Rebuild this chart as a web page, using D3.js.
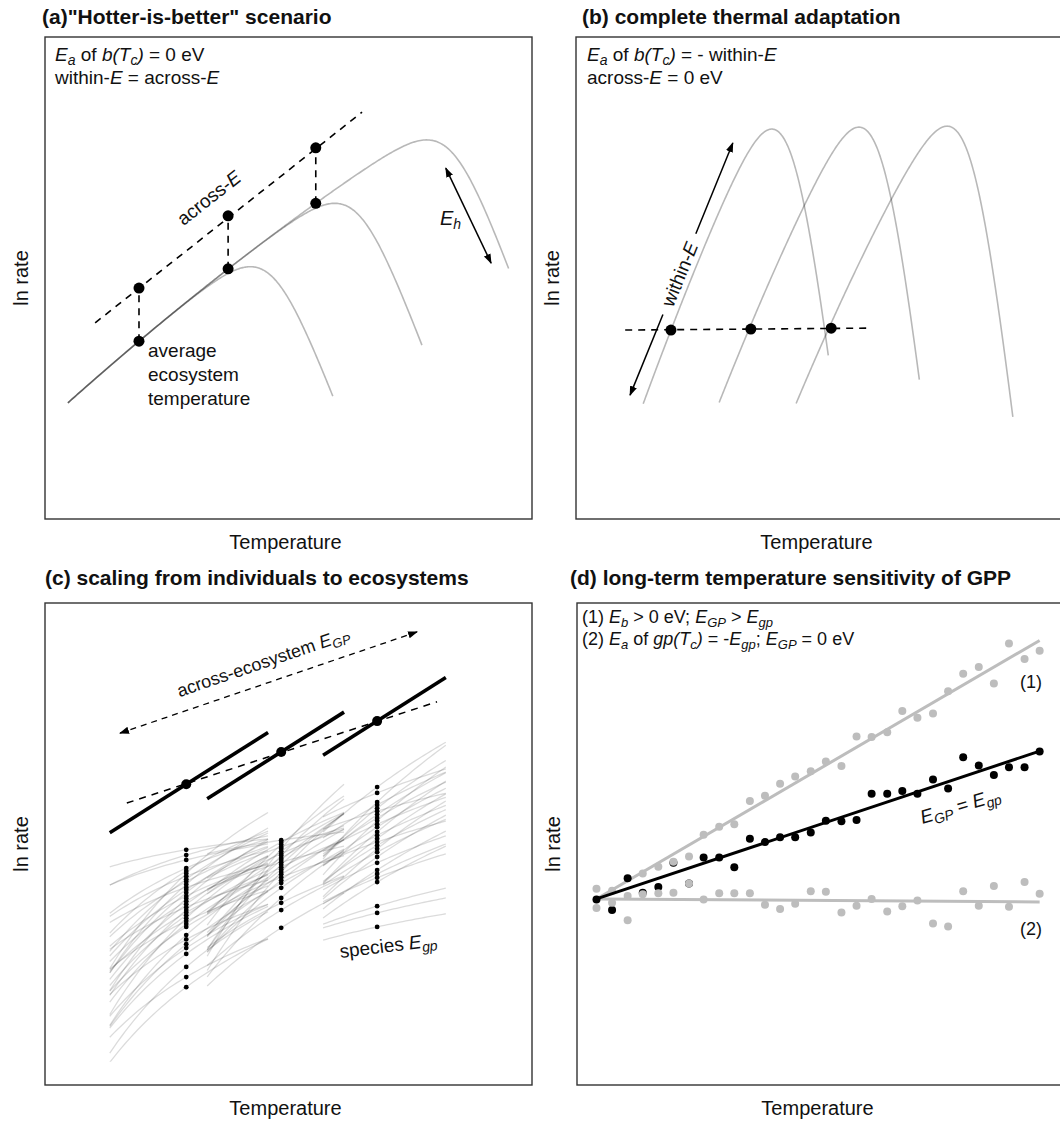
<!DOCTYPE html>
<html lang="en">
<head>
<meta charset="utf-8">
<title>Temperature sensitivity scenarios</title>
<style>
body { margin: 0; background: #fff; }
svg text { font-family: "Liberation Sans", Arial, Helvetica, sans-serif; fill: #111; }
</style>
</head>
<body>
<script src="https://d3js.org/d3.v7.min.js"></script>
<script>

// ---------- data (arbitrary temperature / ln rate units, 0-10 on each axis) ----------

// (a) hotter-is-better
var aStartTemp = 0.47, aStartRate = 2.41;
var aCurveTh = [4.63, 6.40, 8.33];        // where each curve starts to fall
var aCurveEnd = [5.91, 7.74, 9.52];
var aDotTemp = [1.93, 3.76, 5.56];
var aDotRate = [3.69, 5.19, 6.55];
var aDotUpper = [4.79, 6.29, 7.70];
var aAcrossTemp = [1.03, 6.51], aAcrossRate = [4.07, 8.44];
var aEhTemp = [8.23, 9.16], aEhRate = [7.28, 5.31];

// (b) complete thermal adaptation
var bPeakTemp = [4.02, 5.81, 7.62];
var bPeakRate = [8.09, 8.13, 8.15];
var bStartTemp = [1.38, 2.94, 4.52];
var bEndTemp = [5.18, 7.05, 8.97];
var bRise = [2.75, 2.55, 2.40];
var bDotTemp = [1.95, 3.59, 5.24];
var bDotRate = [3.92, 3.94, 3.96];
var bLineTemp = [1.01, 6.04], bLineRate = [3.92, 3.96];
var bArrowTemp = [1.11, 3.22], bArrowRate = [2.57, 7.80];

// (c) scaling from individuals to ecosystems
var cEcoTemp = [2.90, 4.85, 6.82];
var cEcoRate = [6.24, 6.91, 7.55];
var cEcoE = 0.64;
var cLo = [1.33, 3.33, 5.71], cHi = [4.58, 6.14, 8.23];
var cAcrossTemp = [1.68, 8.05], cAcrossRate = [5.85, 7.95];
var cArrowTemp = [1.54, 7.64], cArrowRate = [7.30, 9.40];
var c1Rate = [4.88, 4.77, 4.67, 4.50, 4.44, 4.39, 4.33, 4.27, 4.22, 4.16, 4.10, 4.05, 3.99, 3.92, 3.87, 3.81, 3.75,
              3.69, 3.63, 3.58, 3.52, 3.46, 3.40, 3.34, 3.28, 3.11, 3.02, 2.92, 2.84, 2.72, 2.45, 2.24, 2.03];
var c1E = [0.17, 0.30, 0.25, 0.45, 0.62, 0.95, 0.40, 0.72, 0.55, 0.88, 0.35, 0.66, 0.80, 0.50, 0.92, 0.60, 0.75,
           0.42, 0.85, 0.58, 0.70, 0.96, 0.48, 0.78, 0.64, 0.90, 0.55, 0.82, 0.68, 0.74, 0.86, 0.60, 0.75];
var c2Rate = [5.08, 5.04, 4.99, 4.94, 4.90, 4.85, 4.80, 4.76, 4.71, 4.67, 4.62, 4.57, 4.52, 4.47, 4.42, 4.37, 4.31,
              4.25, 4.19, 4.09, 3.88, 3.78, 3.63, 3.26];
var c2E = [0.15, 0.55, 0.90, 0.35, 1.20, 0.70, 0.45, 1.05, 0.60, 0.85, 0.30, 0.95, 0.50, 0.75, 1.10, 0.65, 0.40,
           0.80, 0.58, 0.72, 0.88, 0.50, 0.62, 0.65];
var c3Rate = [6.18, 6.06, 5.87, 5.81, 5.74, 5.68, 5.61, 5.54, 5.48, 5.41, 5.35, 5.25, 5.18, 5.11, 5.04, 4.97, 4.90,
              4.83, 4.73, 4.61, 4.46, 4.38, 4.30, 4.21, 3.71, 3.57, 3.28];
var c3E = [0.75, 0.40, 0.95, 0.55, 0.80, 0.30, 0.70, 0.60, 0.90, 0.45, 0.65, 0.85, 0.50, 0.75, 0.35, 0.60, 0.80,
           0.55, 0.70, 0.45, 0.65, 0.50, 0.40, 0.60, 0.30, 0.25, 0.22];
var cFloor = 0.48;

// (d) long-term temperature sensitivity of GPP
var dTemp = [0.40, 0.72, 1.04, 1.35, 1.67, 1.98, 2.30, 2.60, 2.92, 3.23, 3.55, 3.86, 4.17, 4.48, 4.80,
             5.11, 5.43, 5.74, 6.05, 6.37, 6.68, 6.99, 7.31, 7.62, 7.93, 8.25, 8.56, 8.87, 9.19, 9.50];
var dBlack = [3.85, 3.63, 4.29, 3.99, 4.11, 4.61, 4.18, 4.72, 4.72, 4.52, 5.11, 5.04, 5.14, 5.14, 5.24,
              5.48, 5.47, 5.50, 6.04, 6.04, 6.10, 6.04, 6.34, 6.15, 6.80, 6.63, 6.43, 6.59, 6.59, 6.92];
var dGray1 = [4.07, 4.03, 3.92, 4.39, 4.53, 4.63, 4.74, 5.19, 5.36, 5.41, 5.89, 6.00, 6.25, 6.40, 6.51,
              6.71, 6.62, 7.23, 7.22, 7.32, 7.76, 7.62, 7.71, 8.17, 8.53, 8.67, 8.33, 9.16, 8.84, 9.01];
var dGray2 = [3.67, 3.78, 3.42, 3.96, 3.98, 3.99, 4.18, 3.85, 3.98, 3.98, 3.98, 3.74, 3.65, 3.76, 4.02,
              4.01, 3.58, 3.72, 3.86, 3.60, 3.71, 3.83, 3.35, 3.29, 4.02, 3.72, 4.13, 3.70, 4.21, 3.97];
var dAnchorRate = 3.86;

// ---------- layout ----------
var W = 1060, H = 1124;
var boxW = 487, boxH = 482;
var panelLeft = [45, 576, 45, 577], panelTop = [37, 37, 603, 603];

var svg = d3.select("body").append("svg").attr("width", W).attr("height", H);
var defs = svg.append("defs");
defs.append("marker").attr("id", "arrowHead")
    .attr("viewBox", "0 -5 10 10").attr("refX", 9).attr("refY", 0)
    .attr("markerUnits", "userSpaceOnUse").attr("markerWidth", 10).attr("markerHeight", 10)
    .attr("orient", "auto-start-reverse")
  .append("path").attr("d", "M0,-3.6L10,0L0,3.6Z").attr("fill", "#000");

function softplus(u) { return u > 30 ? u : Math.log1p(Math.exp(u)); }
function tpc(c, t) {
    var dt = t - c.t0;
    return c.r0 + c.s * dt - c.q * dt * dt - c.K * c.w * softplus((t - c.th) / c.w);
}
function span(a, b, n) { return d3.range(n + 1).map(function(k) { return a + (b - a) * k / n; }); }

// text with italic / subscript pieces: flags "i" italic, "s" subscript
function rich(g, x, y, parts, size) {
    var t = g.append("text").attr("x", x).attr("y", y).style("font-size", size + "px");
    var shift = 0;
    parts.forEach(function(p) {
        var f = p[1] || "";
        var s = t.append("tspan").text(p[0]);
        var want = f.indexOf("s") >= 0 ? Math.round(size * 0.2) : 0;
        if (want !== shift) { s.attr("dy", want - shift); shift = want; }
        if (f.indexOf("i") >= 0) s.style("font-style", "italic");
        if (f.indexOf("s") >= 0) s.style("font-size", Math.round(size * 0.72) + "px");
    });
    return t;
}

function makePanel(i, title, tx, ty) {
    var left = panelLeft[i], top = panelTop[i];
    var x = d3.scaleLinear().domain([0, 10]).range([left, left + boxW]);
    var y = d3.scaleLinear().domain([0, 10]).range([top + boxH, top]);
    defs.append("clipPath").attr("id", "clip" + i)
      .append("rect").attr("x", left).attr("y", top).attr("width", boxW).attr("height", boxH);
    var g = svg.append("g");
    var inner = g.append("g").attr("clip-path", "url(#clip" + i + ")");
    g.append("text").attr("x", tx).attr("y", ty)
        .style("font-size", "21px").style("font-weight", "bold").text(title);
    g.append("text")
        .attr("transform", "translate(" + (left - 17) + "," + (top + boxH / 2) + ") rotate(-90)")
        .attr("text-anchor", "middle").style("font-size", "20px").text("ln rate");
    g.append("text").attr("x", left + boxW / 2 - 3).attr("y", top + boxH + 30)
        .attr("text-anchor", "middle").style("font-size", "20px").text("Temperature");
    var line = d3.line().x(function(d) { return x(d[0]); }).y(function(d) { return y(d[1]); });
    return {
        g: g, inner: inner, x: x, y: y, line: line,
        border: function() {
            g.append("rect").attr("x", left).attr("y", top).attr("width", boxW).attr("height", boxH)
                .attr("fill", "none").attr("stroke", "#333").attr("stroke-width", 1.4);
        }
    };
}

function angleOf(p, t, r) {
    return Math.atan2(p.y(r[1]) - p.y(r[0]), p.x(t[1]) - p.x(t[0])) * 180 / Math.PI;
}

// ---------- (a) ----------
var pa = makePanel(0, '(a)"Hotter-is-better" scenario', 42, 24);
var aShape = { t0: aStartTemp, r0: aStartRate, s: 0.9, q: 0.017, K: 3.3, w: 0.35 };
aCurveTh.forEach(function(th, i) {
    var c = Object.assign({ th: th }, aShape);
    var pts = span(aStartTemp, aCurveEnd[i], 300).map(function(t) { return [t, tpc(c, t)]; });
    pa.inner.append("path").datum(pts).attr("d", pa.line)
        .attr("fill", "none").attr("stroke", "#000").attr("stroke-opacity", 0.28).attr("stroke-width", 1.6);
});
pa.inner.append("path").datum([[aAcrossTemp[0], aAcrossRate[0]], [aAcrossTemp[1], aAcrossRate[1]]])
    .attr("d", pa.line).attr("stroke", "#000").attr("stroke-width", 1.6).attr("stroke-dasharray", "7,6");
pa.inner.selectAll(".drop").data(aDotTemp).enter().append("line")
    .attr("x1", function(d) { return pa.x(d); }).attr("x2", function(d) { return pa.x(d); })
    .attr("y1", function(d, i) { return pa.y(aDotRate[i]); })
    .attr("y2", function(d, i) { return pa.y(aDotUpper[i]); })
    .attr("stroke", "#000").attr("stroke-width", 1.6).attr("stroke-dasharray", "7,6");
pa.inner.selectAll(".lo").data(aDotTemp).enter().append("circle")
    .attr("cx", function(d) { return pa.x(d); }).attr("cy", function(d, i) { return pa.y(aDotRate[i]); })
    .attr("r", 5.5).attr("fill", "#000");
pa.inner.selectAll(".hi").data(aDotTemp).enter().append("circle")
    .attr("cx", function(d) { return pa.x(d); }).attr("cy", function(d, i) { return pa.y(aDotUpper[i]); })
    .attr("r", 5.5).attr("fill", "#000");
pa.inner.append("path").datum([[aEhTemp[0], aEhRate[0]], [aEhTemp[1], aEhRate[1]]])
    .attr("d", pa.line).attr("stroke", "#000").attr("stroke-width", 1.5)
    .attr("marker-start", "url(#arrowHead)").attr("marker-end", "url(#arrowHead)");
rich(pa.g, 440, 225, [["E", "i"], ["h", "is"]], 20);
rich(pa.g, 0, 0, [["across-"], ["E", "i"]], 19).attr("text-anchor", "middle")
    .attr("transform", "translate(213,203) rotate(" + angleOf(pa, aAcrossTemp, aAcrossRate) + ")");
["average", "ecosystem", "temperature"].forEach(function(s, i) {
    pa.g.append("text").attr("x", 148).attr("y", 357 + i * 24).style("font-size", "19px").text(s);
});
rich(pa.g, 55, 61, [["E", "i"], ["a", "is"], [" of "], ["b(T", "i"], ["c", "is"], [")", "i"], [" = 0 eV"]], 19);
rich(pa.g, 55, 84, [["within-"], ["E", "i"], [" = across-"], ["E", "i"]], 19);
pa.border();

// ---------- (b) ----------
var pb = makePanel(1, "(b) complete thermal adaptation", 582, 24);
bPeakTemp.forEach(function(tp, i) {
    var c = { t0: bStartTemp[i], s: bRise[i], q: 0.115, K: 10, w: 0.315 };
    var dp = tp - c.t0;
    var sig = (c.s - 2 * c.q * dp) / c.K;
    var u = Math.log(sig / (1 - sig));
    c.th = tp - c.w * u;
    c.r0 = bPeakRate[i] - (c.s * dp - c.q * dp * dp) + c.K * c.w * softplus(u);
    var pts = span(bStartTemp[i], bEndTemp[i], 300).map(function(t) { return [t, tpc(c, t)]; });
    pb.inner.append("path").datum(pts).attr("d", pb.line)
        .attr("fill", "none").attr("stroke", "#000").attr("stroke-opacity", 0.28).attr("stroke-width", 1.6);
});
pb.inner.append("path").datum([[bLineTemp[0], bLineRate[0]], [bLineTemp[1], bLineRate[1]]])
    .attr("d", pb.line).attr("stroke", "#000").attr("stroke-width", 1.6).attr("stroke-dasharray", "7,6");
pb.inner.selectAll(".dot").data(bDotTemp).enter().append("circle")
    .attr("cx", function(d) { return pb.x(d); }).attr("cy", function(d, i) { return pb.y(bDotRate[i]); })
    .attr("r", 5.5).attr("fill", "#000");
var bLerp = function(f) {
    return [bArrowTemp[0] + (bArrowTemp[1] - bArrowTemp[0]) * f, bArrowRate[0] + (bArrowRate[1] - bArrowRate[0]) * f];
};
pb.inner.append("path").datum([bLerp(0), bLerp(0.32)]).attr("d", pb.line)
    .attr("stroke", "#000").attr("stroke-width", 1.5).attr("marker-start", "url(#arrowHead)");
pb.inner.append("path").datum([bLerp(0.64), bLerp(1)]).attr("d", pb.line)
    .attr("stroke", "#000").attr("stroke-width", 1.5).attr("marker-end", "url(#arrowHead)");
var bMid = bLerp(0.48);
rich(pb.g, 0, 0, [["within-"], ["E", "i"]], 19).attr("text-anchor", "middle").attr("dy", 7)
    .attr("transform", "translate(" + pb.x(bMid[0]) + "," + pb.y(bMid[1]) + ") rotate(" + angleOf(pb, bArrowTemp, bArrowRate) + ")");
rich(pb.g, 587, 61, [["E", "i"], ["a", "is"], [" of "], ["b(T", "i"], ["c", "is"], [")", "i"], [" = - within-"], ["E", "i"]], 19);
rich(pb.g, 587, 84, [["across-"], ["E", "i"], [" = 0 eV"]], 19);
pb.border();

// ---------- (c) ----------
var pc = makePanel(2, "(c) scaling from individuals to ecosystems", 45, 585);
defs.append("clipPath").attr("id", "clipSpecies")
  .append("rect").attr("x", panelLeft[2]).attr("y", panelTop[2])
    .attr("width", boxW).attr("height", pc.y(cFloor) - panelTop[2]);
var species = pc.inner.append("g").attr("clip-path", "url(#clipSpecies)");
function arrh(t, tc, rate, E) {
    var a = tc + 3.5;
    return rate + E * (a - a * a / (t + 3.5));
}
var groups = [[c1Rate, c1E], [c2Rate, c2E], [c3Rate, c3E]];
groups.forEach(function(gr, k) {
    gr[0].forEach(function(rate, j) {
        var pts = span(cLo[k], cHi[k], 40).map(function(t) { return [t, arrh(t, cEcoTemp[k], rate, gr[1][j])]; });
        species.append("path").datum(pts).attr("d", pc.line)
            .attr("fill", "none").attr("stroke", "#000").attr("stroke-opacity", 0.14).attr("stroke-width", 1.3);
    });
});
groups.forEach(function(gr, k) {
    pc.inner.selectAll(".sp" + k).data(gr[0]).enter().append("circle")
        .attr("cx", pc.x(cEcoTemp[k])).attr("cy", function(d) { return pc.y(d); })
        .attr("r", 2.4).attr("fill", "#000");
});
cEcoTemp.forEach(function(tc, k) {
    var pts = [cLo[k], cHi[k]].map(function(t) { return [t, cEcoRate[k] + cEcoE * (t - tc)]; });
    pc.inner.append("path").datum(pts).attr("d", pc.line).attr("stroke", "#000").attr("stroke-width", 3.6);
});
pc.inner.append("path").datum([[cAcrossTemp[0], cAcrossRate[0]], [cAcrossTemp[1], cAcrossRate[1]]])
    .attr("d", pc.line).attr("stroke", "#000").attr("stroke-width", 1.5).attr("stroke-dasharray", "7,6");
pc.inner.selectAll(".eco").data(cEcoTemp).enter().append("circle")
    .attr("cx", function(d) { return pc.x(d); }).attr("cy", function(d, i) { return pc.y(cEcoRate[i]); })
    .attr("r", 5).attr("fill", "#000");
pc.inner.append("path").datum([[cArrowTemp[0], cArrowRate[0]], [cArrowTemp[1], cArrowRate[1]]])
    .attr("d", pc.line).attr("stroke", "#000").attr("stroke-width", 1.3).attr("stroke-dasharray", "6,5")
    .attr("marker-start", "url(#arrowHead)").attr("marker-end", "url(#arrowHead)");
rich(pc.g, 0, 0, [["across-ecosystem "], ["E", "i"], ["GP", "is"]], 18).attr("text-anchor", "middle")
    .attr("transform", "translate(265,668) rotate(" + angleOf(pc, cArrowTemp, cArrowRate) + ")");
rich(pc.g, 0, 0, [["species "], ["E", "i"], ["gp", "is"]], 19).attr("text-anchor", "middle")
    .attr("transform", "translate(389,952) rotate(-7)");
pc.border();

// ---------- (d) ----------
var pd = makePanel(3, "(d) long-term temperature sensitivity of GPP", 570, 585);
function anchoredSlope(vals) {
    var t0 = dTemp[0], num = 0, den = 0;
    dTemp.forEach(function(t, i) { num += (t - t0) * (vals[i] - dAnchorRate); den += (t - t0) * (t - t0); });
    return num / den;
}
function fitLine(vals) {
    var b = anchoredSlope(vals), t0 = dTemp[0], t1 = dTemp[dTemp.length - 1];
    return [[t0, dAnchorRate], [t1, dAnchorRate + b * (t1 - t0)]];
}
[dGray1, dGray2].forEach(function(vals) {
    pd.inner.append("path").datum(fitLine(vals)).attr("d", pd.line)
        .attr("stroke", "#bdbdbd").attr("stroke-width", 3);
});
pd.inner.selectAll(".bk").data(dBlack).enter().append("circle")
    .attr("cx", function(d, i) { return pd.x(dTemp[i]); }).attr("cy", function(d) { return pd.y(d); })
    .attr("r", 4).attr("fill", "#000");
[dGray1, dGray2].forEach(function(vals, k) {
    pd.inner.selectAll(".gr" + k).data(vals).enter().append("circle")
        .attr("cx", function(d, i) { return pd.x(dTemp[i]); }).attr("cy", function(d) { return pd.y(d); })
        .attr("r", 4).attr("fill", "#bdbdbd");
});
pd.inner.append("path").datum(fitLine(dBlack)).attr("d", pd.line).attr("stroke", "#000").attr("stroke-width", 3);
pd.g.append("text").attr("x", 1042).attr("y", 688).attr("text-anchor", "end").style("font-size", "18px").text("(1)");
pd.g.append("text").attr("x", 1042).attr("y", 935).attr("text-anchor", "end").style("font-size", "18px").text("(2)");
rich(pd.g, 0, 0, [["E", "i"], ["GP", "is"], [" = "], ["E", "i"], ["gp", "is"]], 19).attr("text-anchor", "middle")
    .attr("transform", "translate(962,812) rotate(-17)");
rich(pd.g, 582, 623, [["(1) "], ["E", "i"], ["b", "is"], [" > 0 eV; "], ["E", "i"], ["GP", "is"], [" > "], ["E", "i"], ["gp", "is"]], 18);
rich(pd.g, 582, 645, [["(2) "], ["E", "i"], ["a", "is"], [" of "], ["gp(T", "i"], ["c", "is"], [")", "i"], [" = -"],
    ["E", "i"], ["gp", "is"], ["; "], ["E", "i"], ["GP", "is"], [" = 0 eV"]], 18);
pd.border();

</script>
</body>
</html>
